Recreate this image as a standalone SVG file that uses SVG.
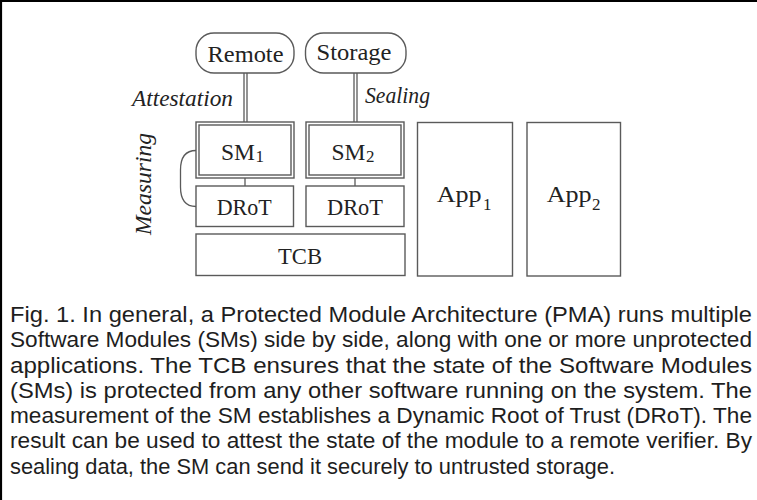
<svg xmlns="http://www.w3.org/2000/svg" width="757" height="500" viewBox="0 0 757 500">
<style>
.box{fill:#fff;stroke:#5a5a5a;stroke-width:1.4}
.ln{fill:none;stroke:#5a5a5a;stroke-width:1.3}
.t{font-family:"Liberation Serif",serif;font-size:23px;fill:#222}
.sub{font-family:"Liberation Serif",serif;font-size:17px;fill:#222}
.it{font-family:"Liberation Serif",serif;font-size:23px;font-style:italic;fill:#222}
.cap{font-family:"Liberation Sans",Arial,sans-serif;font-size:21.5px;fill:#1e1e1e}
</style>
<rect width="757" height="500" fill="#fff"/>
<path d="M1,500 V1 H757" fill="none" stroke="#000" stroke-width="2.2"/>

<g id="connectors">
  <line class="ln" x1="244" y1="73" x2="244" y2="122"/>
  <line class="ln" x1="247" y1="73" x2="247" y2="122"/>
  <line class="ln" x1="354" y1="73" x2="354" y2="122"/>
  <line class="ln" x1="357" y1="73" x2="357" y2="122"/>
  <line class="ln" x1="245" y1="178" x2="245" y2="186"/>
  <line class="ln" x1="355" y1="178" x2="355" y2="186"/>
  <path class="ln" d="M196,150.5 C185,150.5 180.5,158 180.5,170 L180.5,187 C180.5,199 185,206.5 196,206.5"/>
  <text class="it" x="132" y="105.5" textLength="101" lengthAdjust="spacingAndGlyphs">Attestation</text>
  <text class="it" x="365" y="103" textLength="65" lengthAdjust="spacingAndGlyphs">Sealing</text>
  <text class="it" transform="translate(151,184) rotate(-90)" x="0" y="0" text-anchor="middle" textLength="102" lengthAdjust="spacingAndGlyphs">Measuring</text>
</g>

<g id="remote">
  <rect class="box" x="196" y="33" width="98" height="40" rx="18" ry="18"/>
  <text class="t" x="207.5" y="61.5" textLength="76" lengthAdjust="spacingAndGlyphs">Remote</text>
</g>
<g id="storage">
  <rect class="box" x="305.5" y="33" width="100.5" height="40" rx="18" ry="18"/>
  <text class="t" x="316.5" y="59.5" textLength="75" lengthAdjust="spacingAndGlyphs">Storage</text>
</g>

<g id="sm1">
  <rect class="box" x="196" y="122" width="98" height="56"/>
  <rect class="box" x="199" y="125" width="92" height="50"/>
  <text class="t" x="221" y="159.5" textLength="34" lengthAdjust="spacingAndGlyphs">SM</text>
  <text class="sub" x="255.5" y="162">1</text>
</g>
<g id="sm2">
  <rect class="box" x="306" y="122" width="98" height="56"/>
  <rect class="box" x="309" y="125" width="92" height="50"/>
  <text class="t" x="331.5" y="159.5" textLength="34" lengthAdjust="spacingAndGlyphs">SM</text>
  <text class="sub" x="366" y="162">2</text>
</g>

<g id="drot1">
  <rect class="box" x="196" y="186" width="97.5" height="40.5"/>
  <text class="t" x="216.7" y="214.5" textLength="55" lengthAdjust="spacingAndGlyphs">DRoT</text>
</g>
<g id="drot2">
  <rect class="box" x="306" y="186" width="98" height="40.5"/>
  <text class="t" x="327" y="214.5" textLength="56" lengthAdjust="spacingAndGlyphs">DRoT</text>
</g>

<g id="tcb">
  <rect class="box" x="196" y="234" width="209" height="41.5"/>
  <text class="t" x="278" y="263.5" textLength="44" lengthAdjust="spacingAndGlyphs">TCB</text>
</g>

<g id="app1">
  <rect class="box" x="417.5" y="122.5" width="95" height="153.5"/>
  <text class="t" x="436.7" y="201.5" textLength="45" lengthAdjust="spacingAndGlyphs">App</text>
  <text class="sub" x="483" y="210">1</text>
</g>
<g id="app2">
  <rect class="box" x="527" y="122.5" width="93.5" height="153.5"/>
  <text class="t" x="546.7" y="201.5" textLength="45" lengthAdjust="spacingAndGlyphs">App</text>
  <text class="sub" x="592" y="210">2</text>
</g>

<g id="caption">
  <text class="cap" x="10" y="322" textLength="742" lengthAdjust="spacingAndGlyphs">Fig. 1. In general, a Protected Module Architecture (PMA) runs multiple</text>
  <text class="cap" x="10" y="347.3" textLength="742" lengthAdjust="spacingAndGlyphs">Software Modules (SMs) side by side, along with one or more unprotected</text>
  <text class="cap" x="10" y="372.5" textLength="742" lengthAdjust="spacingAndGlyphs">applications. The TCB ensures that the state of the Software Modules</text>
  <text class="cap" x="10" y="397.8" textLength="742" lengthAdjust="spacingAndGlyphs">(SMs) is protected from any other software running on the system. The</text>
  <text class="cap" x="10" y="423" textLength="742" lengthAdjust="spacingAndGlyphs">measurement of the SM establishes a Dynamic Root of Trust (DRoT). The</text>
  <text class="cap" x="10" y="448.3" textLength="742" lengthAdjust="spacingAndGlyphs">result can be used to attest the state of the module to a remote verifier. By</text>
  <text class="cap" x="10" y="473.5" textLength="605" lengthAdjust="spacingAndGlyphs">sealing data, the SM can send it securely to untrusted storage.</text>
</g>
</svg>
